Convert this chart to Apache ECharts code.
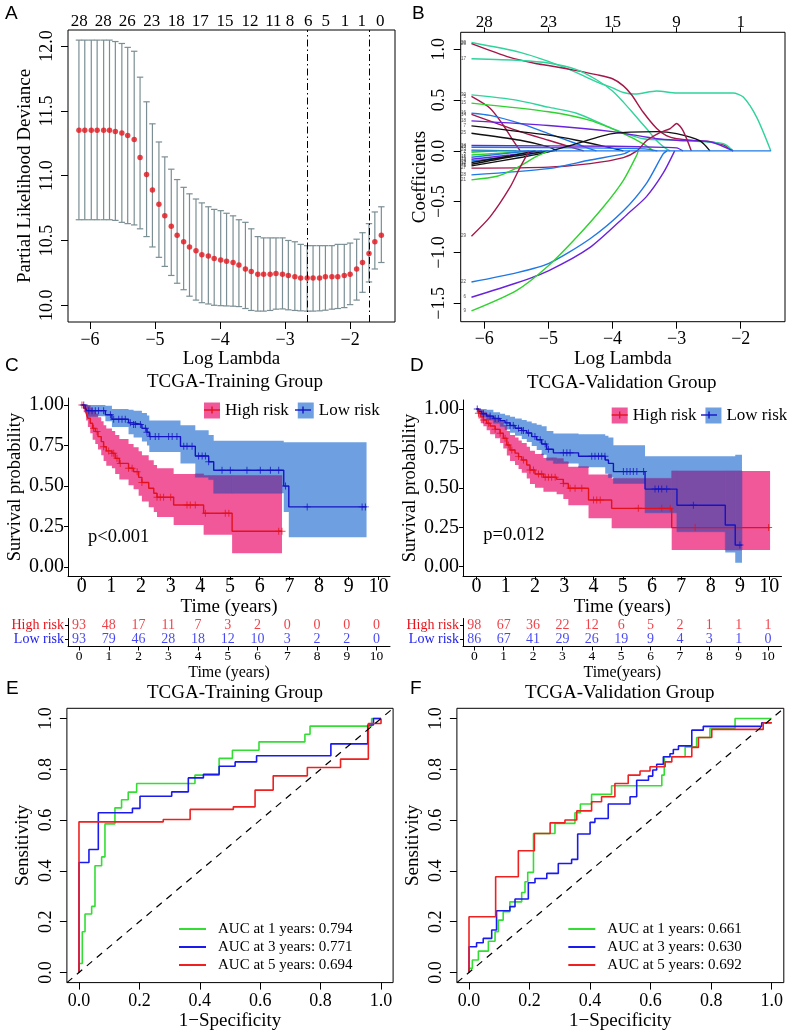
<!DOCTYPE html>
<html><head><meta charset="utf-8">
<script src="https://cdn.jsdelivr.net/npm/echarts@6/dist/echarts.min.js"></script>
<style>html,body{margin:0;padding:0;background:#fff}#c{width:787px;height:1033px}</style>
</head><body><div id="c"></div><script>
// ---------- Panel A: cross-validation ----------
const lamA = [-6.17,-6.08,-5.98,-5.89,-5.79,-5.70,-5.61,-5.51,-5.42,-5.32,-5.23,-5.13,-5.04,-4.94,-4.85,-4.75,-4.66,-4.56,-4.47,-4.37,-4.28,-4.18,-4.09,-3.99,-3.90,-3.80,-3.71,-3.61,-3.52,-3.42,-3.33,-3.23,-3.14,-3.04,-2.95,-2.85,-2.76,-2.66,-2.57,-2.47,-2.38,-2.28,-2.19,-2.09,-2.00,-1.90,-1.81,-1.71,-1.62,-1.52];
const cvmA = [11.35,11.35,11.35,11.35,11.35,11.35,11.34,11.33,11.31,11.28,11.14,11.01,10.89,10.78,10.69,10.61,10.54,10.49,10.45,10.42,10.39,10.38,10.36,10.35,10.34,10.33,10.31,10.28,10.26,10.24,10.24,10.24,10.245,10.24,10.23,10.22,10.21,10.21,10.21,10.21,10.22,10.22,10.22,10.23,10.24,10.28,10.33,10.40,10.49,10.54];
const cvupA = [12.046,12.046,12.046,12.046,12.046,12.046,12.035,12.02,11.99,11.96,11.76,11.57,11.40,11.26,11.145,11.05,10.97,10.91,10.86,10.82,10.79,10.76,10.74,10.73,10.71,10.69,10.66,10.64,10.59,10.53,10.52,10.52,10.52,10.52,10.50,10.49,10.47,10.46,10.46,10.46,10.46,10.46,10.47,10.47,10.48,10.51,10.56,10.63,10.72,10.76];
const cvloA = [10.66,10.66,10.66,10.66,10.66,10.66,10.655,10.64,10.63,10.62,10.59,10.53,10.45,10.37,10.30,10.23,10.17,10.12,10.07,10.04,10.02,10.01,10.00,9.997,9.995,9.993,9.99,9.975,9.96,9.955,9.955,9.96,9.97,9.972,9.965,9.96,9.957,9.955,9.955,9.957,9.962,9.97,9.975,9.982,10.005,10.04,10.10,10.18,10.28,10.33];
const lamMin = -2.66, lam1se = -1.71;
const nzPosA = [-6.165,-5.795,-5.426,-5.051,-4.672,-4.303,-3.923,-3.538,-3.18,-2.923,-2.642,-2.374,-2.077,-1.82,-1.538];
const nzLabA = ['28','28','26','23','18','17','15','12','11','8','6','5','1','1','0'];
const lamTicks = [-6,-5,-4,-3,-2];
// ---------- Panel B: coefficient paths ----------
const nzLabB = ['28','23','15','9','1'];
const PAL = {k:'#111111', m:'#a3174b', g:'#2fd22f', b:'#1e78e6', p:'#6a22dc', t:'#2fd39b'};
const coefPaths = [
 ['20','t',[[-6.2,1.066],[-5.44,0.97],[-5.0,0.88],[-4.56,0.77],[-4.25,0.68],[-4.0,0.62],[-3.83,0.575],[-3.65,0.56],[-3.31,0.59],[-3.0,0.57],[-2.27,0.57],[-2.12,0.57],[-1.96,0.53],[-1.75,0.33],[-1.53,0]]],
 ['26','m',[[-6.2,1.056],[-5.6,0.92],[-5.2,0.86],[-5.0,0.84],[-4.56,0.79],[-4.25,0.75],[-4.0,0.71],[-3.83,0.64],[-3.7,0.55],[-3.52,0.38],[-3.31,0.22],[-3.16,0.15],[-3.0,0.12],[-2.69,0.1],[-2.48,0.09],[-2.27,0.06],[-2.12,0]]],
 ['17','t',[[-6.2,0.906],[-5.44,0.89],[-5.0,0.865],[-4.56,0.8],[-4.25,0.7],[-4.0,0.59],[-3.83,0.48],[-3.65,0.35],[-3.47,0.22],[-3.31,0.1],[-3.16,0.02],[-3.1,0]]],
 ['30','t',[[-6.2,0.551],[-5.5,0.5],[-5.0,0.43],[-4.56,0.37],[-4.0,0.22],[-3.52,0.12],[-3.0,0.105],[-2.27,0.07],[-2.12,0]]],
 ['5','m',[[-6.2,0.536],[-5.91,0.42],[-5.7,0.25],[-5.55,0.1],[-5.44,0]]],
 ['15','g',[[-6.2,0.47],[-5.0,0.385],[-4.35,0.3],[-3.83,0.17],[-3.52,0.07],[-3.36,0]]],
 ['16','b',[[-6.2,0.371],[-5.91,0.35],[-5.44,0.27],[-5.0,0.17],[-4.56,0.07],[-4.35,0.02],[-4.25,0]]],
 ['14','m',[[-6.2,0.36],[-5.44,0.19],[-5.0,0.105],[-4.56,0.02],[-4.45,0]]],
 ['18','p',[[-6.2,0.295],[-5.0,0.25],[-4.0,0.19],[-3.31,0.12],[-3.0,0.105],[-2.48,0.09],[-2.12,0]]],
 ['7','k',[[-6.2,0.246],[-5.0,0.155],[-4.56,0.105],[-4.1,0.04],[-3.83,0]]],
 ['25','k',[[-6.2,0.174],[-5.44,0.105],[-5.0,0.04],[-4.87,0]]],
 ['24','p',[[-6.2,0.053],[-4.0,0.045],[-3.2,0.035],[-3.0,0.03],[-2.9,0]]],
 ['19','b',[[-6.2,0.036],[-4.5,0.03],[-3.5,0.02],[-3.3,0]]],
 ['23','g',[[-6.2,0.01],[-5.5,0]]],
 ['2','g',[[-6.2,-0.013],[-5.8,0]]],
 ['3','g',[[-6.2,-0.04],[-5.2,0]]],
 ['11','b',[[-6.2,-0.062],[-5.3,0]]],
 ['13','p',[[-6.2,-0.082],[-5.6,-0.04],[-5.1,0]]],
 ['4','b',[[-6.2,-0.098],[-5.5,-0.05],[-4.9,0]]],
 ['12','k',[[-6.2,-0.114],[-5.6,-0.05],[-5.2,0]]],
 ['10','k',[[-6.2,-0.131],[-5.6,-0.06],[-5.0,0]]],
 ['1','k',[[-6.2,-0.148],[-5.39,-0.06],[-5.0,-0.01],[-4.56,0.072],[-4.0,0.17],[-3.31,0.19],[-3.0,0.17],[-2.64,0.1],[-2.48,0]]],
 ['27','m',[[-6.2,-0.17],[-5.0,-0.16],[-4.35,-0.125],[-3.83,-0.066],[-3.62,0],[-3.47,0.1],[-3.26,0.18],[-3.1,0.22],[-3.0,0.27],[-2.9,0.2],[-2.77,0]]],
 ['28','b',[[-6.2,-0.236],[-5.0,-0.175],[-4.35,-0.09],[-3.83,-0.03],[-3.73,0]]],
 ['21','g',[[-6.2,-0.285],[-5.8,-0.25],[-5.5,-0.17],[-5.2,-0.06],[-5.0,0]]],
 ['29','m',[[-6.2,-0.84],[-5.91,-0.65],[-5.6,-0.36],[-5.44,-0.16],[-5.3,0]]],
 ['22','b',[[-6.2,-1.29],[-5.5,-1.2],[-5.0,-1.11],[-4.35,-0.865],[-3.83,-0.59],[-3.47,-0.32],[-3.21,-0.03],[-3.15,0]]],
 ['6','p',[[-6.2,-1.44],[-5.5,-1.3],[-5.0,-1.18],[-4.35,-0.95],[-3.78,-0.63],[-3.47,-0.45],[-3.21,-0.22],[-3.03,0]]],
 ['9','g',[[-6.2,-1.575],[-5.5,-1.375],[-5.0,-1.13],[-4.56,-0.85],[-4.14,-0.55],[-3.83,-0.29],[-3.62,-0.04],[-3.6,0]]]
];
const zeroPath = [[-6.2,0],[-1.53,0]];
// ---------- Panel C: KM training ----------
const cHighT = [0,0.07,0.15,0.21,0.29,0.37,0.46,0.55,0.66,0.74,0.83,1.02,1.13,1.27,1.58,1.75,1.92,2.03,2.26,2.43,2.54,3.1,4.11,5.07,6.75];
const cHighS = [1,0.98,0.949,0.918,0.887,0.856,0.836,0.805,0.774,0.743,0.717,0.702,0.671,0.64,0.61,0.589,0.554,0.522,0.487,0.456,0.431,0.384,0.333,0.222,0.222];
const cHighU = [1,1,1,0.995,0.98,0.96,0.945,0.925,0.9,0.875,0.855,0.84,0.815,0.79,0.76,0.74,0.715,0.69,0.66,0.63,0.61,0.575,0.565,0.565,0.565];
const cHighL = [1,0.955,0.905,0.865,0.825,0.785,0.76,0.725,0.69,0.655,0.625,0.61,0.575,0.54,0.505,0.48,0.44,0.405,0.37,0.34,0.31,0.26,0.2,0.086,0.086];
const cHighCens = [0.01,0.4,0.52,0.74,0.91,1.02,1.08,1.19,1.3,1.58,1.7,1.87,2.03,2.54,2.65,2.76,3.0,3.55,3.66,3.83,4.17,4.84,4.96,6.64,6.75];
const cLowT = [0,0.12,0.18,0.8,1.02,1.58,1.75,2.03,2.2,2.28,3.33,3.83,4.28,4.45,6.81,6.98,9.6];
const cLowS = [1,0.98,0.965,0.94,0.912,0.89,0.88,0.856,0.832,0.805,0.745,0.686,0.65,0.598,0.5,0.372,0.372];
const cLowU = [1,1,1,0.995,0.975,0.97,0.965,0.95,0.935,0.905,0.875,0.845,0.815,0.78,0.77,0.77,0.77];
const cLowL = [1,0.955,0.93,0.9,0.865,0.82,0.8,0.775,0.75,0.71,0.64,0.555,0.54,0.456,0.34,0.185,0.185];
const cLowCens = [0.07,0.24,0.35,0.46,0.57,0.74,0.97,1.08,1.25,1.36,1.47,1.64,1.75,1.81,1.98,2.15,2.2,2.31,2.48,2.6,2.93,3.05,3.21,3.44,3.55,3.72,3.94,4.06,4.17,4.28,4.73,5.01,5.57,6.02,6.36,6.64,6.87,7.6,9.45,9.56];
// ---------- Panel D: KM validation ----------
const dHighT = [0,0.07,0.15,0.24,0.35,0.47,0.64,0.81,0.92,1.04,1.15,1.32,1.44,1.55,1.72,1.83,2.0,2.29,2.74,2.97,3.14,3.83,4.62,6.67,10.03];
const dHighS = [1,0.973,0.95,0.93,0.91,0.892,0.871,0.846,0.814,0.772,0.74,0.72,0.698,0.677,0.645,0.613,0.588,0.567,0.554,0.528,0.497,0.423,0.37,0.248,0.248];
const dHighU = [1,1,0.99,0.98,0.965,0.95,0.935,0.915,0.895,0.86,0.835,0.82,0.8,0.785,0.76,0.735,0.715,0.69,0.685,0.665,0.634,0.585,0.56,0.607,0.607];
const dHighL = [1,0.94,0.91,0.89,0.865,0.84,0.815,0.785,0.75,0.705,0.67,0.645,0.62,0.595,0.56,0.525,0.5,0.475,0.46,0.43,0.39,0.307,0.243,0.106,0.106];
const dHighCens = [0.07,0.24,0.41,0.64,0.81,0.98,1.09,1.21,1.44,1.61,1.83,1.95,2.12,2.23,2.35,2.46,2.57,2.69,2.97,3.2,3.37,3.6,4.0,4.11,4.23,5.53,6.33,6.62,7.47,9.98];
const dLowT = [0,0.07,0.18,0.35,0.58,0.81,0.98,1.15,1.32,1.55,1.72,1.89,2.06,2.23,2.4,2.63,3.49,4.4,4.51,4.68,5.76,6.85,8.5,8.84,9.07];
const dLowS = [1,0.985,0.97,0.955,0.94,0.925,0.912,0.895,0.878,0.863,0.848,0.825,0.805,0.778,0.745,0.722,0.7,0.677,0.655,0.603,0.492,0.39,0.264,0.137,0.137];
const dLowU = [1,1,1,0.995,0.98,0.97,0.96,0.95,0.94,0.93,0.92,0.91,0.9,0.89,0.86,0.845,0.84,0.83,0.82,0.77,0.7,0.7,0.7,0.71,0.71];
const dLowL = [1,0.97,0.95,0.93,0.91,0.89,0.87,0.85,0.83,0.81,0.79,0.765,0.74,0.71,0.675,0.655,0.63,0.59,0.565,0.528,0.342,0.222,0.09,0.025,0.025];
const dLowCens = [0.03,0.24,0.47,0.64,0.75,1.04,1.15,1.26,1.44,1.55,1.61,1.78,2.0,2.18,2.35,2.46,2.97,3.09,3.2,3.94,4.05,4.17,4.28,4.39,5.02,5.14,5.25,5.36,5.48,5.71,6.1,6.22,6.33,6.5,7.41,9.0];
// ---------- risk tables ----------
const riskTimes = [0,1,2,3,4,5,6,7,8,9,10];
const riskCHigh = [93,48,17,11,7,3,2,0,0,0,0];
const riskCLow  = [93,79,46,28,18,12,10,3,2,2,0];
const riskDHigh = [98,67,36,22,12,6,5,2,1,1,1];
const riskDLow  = [86,67,41,29,26,19,9,4,3,1,0];
// ---------- Panels E, F: ROC ----------
const rocE1 = [[0,0],[0,0.035],[0.011,0.16],[0.02,0.23],[0.042,0.26],[0.053,0.42],[0.075,0.455],[0.086,0.585],[0.119,0.648],[0.141,0.68],[0.163,0.71],[0.191,0.744],[0.384,0.777],[0.464,0.843],[0.508,0.875],[0.596,0.908],[0.748,0.938],[0.765,0.97],[0.969,1.0],[1,1]];
const rocE3 = [[0,0],[0,0.433],[0.033,0.484],[0.064,0.629],[0.177,0.646],[0.202,0.694],[0.307,0.711],[0.362,0.766],[0.412,0.78],[0.464,0.812],[0.517,0.829],[0.588,0.853],[0.834,0.9],[0.956,0.974],[0.975,1.0],[1,1]];
const rocE5 = [[0,0],[0,0.593],[0.279,0.602],[0.368,0.642],[0.511,0.652],[0.583,0.718],[0.643,0.774],[0.756,0.807],[0.866,0.84],[0.958,0.98],[1,1]];
const rocF1 = [[0,0],[0,0.016],[0.011,0.049],[0.031,0.084],[0.064,0.123],[0.086,0.16],[0.097,0.206],[0.113,0.239],[0.135,0.278],[0.174,0.315],[0.185,0.357],[0.194,0.394],[0.213,0.547],[0.284,0.587],[0.35,0.629],[0.368,0.663],[0.405,0.701],[0.471,0.735],[0.637,0.777],[0.645,0.849],[0.714,0.888],[0.752,0.925],[0.796,0.961],[0.879,1.0],[1,1]];
const rocF3 = [[0,0],[0,0.101],[0.025,0.117],[0.047,0.134],[0.075,0.167],[0.091,0.243],[0.135,0.259],[0.152,0.289],[0.196,0.353],[0.218,0.37],[0.257,0.39],[0.295,0.429],[0.339,0.445],[0.359,0.545],[0.4,0.591],[0.416,0.606],[0.46,0.663],[0.532,0.692],[0.554,0.757],[0.593,0.773],[0.607,0.797],[0.62,0.82],[0.642,0.849],[0.664,0.861],[0.675,0.878],[0.692,0.892],[0.736,0.954],[0.774,0.969],[0.967,0.983],[1,0.983]];
const rocF5 = [[0,0],[0,0.219],[0.088,0.377],[0.163,0.479],[0.216,0.547],[0.268,0.589],[0.317,0.6],[0.356,0.636],[0.405,0.672],[0.438,0.692],[0.482,0.744],[0.526,0.777],[0.565,0.793],[0.598,0.81],[0.648,0.829],[0.67,0.849],[0.736,0.886],[0.758,0.925],[0.802,0.957],[0.972,0.983],[1,0.983]];
const aucE = ['AUC at 1 years: 0.794','AUC at 3 years: 0.771','AUC at 5 years: 0.694'];
const aucF = ['AUC at 1 years: 0.661','AUC at 3 years: 0.630','AUC at 5 years: 0.692'];
const rocTicks = [0,0.2,0.4,0.6,0.8,1.0];

// ---------- styling ----------
const SERIF = '"Liberation Serif","Times New Roman",Times,serif';
const SANS = '"Liberation Sans",Arial,Helvetica,sans-serif';
const BLACK = '#000';
const ERR = '#7a8e94';
const PINK = '#f0589a', LBLUE = '#6ea0e1', PURPLE = '#7b4ca6';
const KRED = '#e3121c', KBLUE = '#1414c4';
const TRED = '#e8121a', TBLUE = '#1a1af0';
const RGREEN = '#33dd33', RBLUE = '#1a1aee', RRED = '#ee2020';
const PLUS = 'path://M4.3,0h1.4v4.3h4.3v1.4h-4.3v4.3h-1.4v-4.3h-4.3v-1.4h4.3z';
const mfmt = (d) => (v) => (v < 0 ? '\u2212' : '') + Math.abs(v).toFixed(d);
const tsty = (size) => ({fontFamily: SERIF, fontSize: size, color: BLACK});

function rX(grid, min, max, ticks, fmt, name, gap, opt) {
  opt = opt || {};
  return {type:'value', gridIndex:grid, min, max, position: opt.position || 'bottom',
    axisLine:{show: !!opt.line, onZero:false, lineStyle:{color:BLACK, width:1}},
    axisTick:{show: opt.tick !== false, length: opt.tickLen || 7, customValues: ticks, lineStyle:{color:BLACK, width:1}},
    axisLabel:Object.assign({customValues: ticks, formatter: fmt, margin: opt.margin != null ? opt.margin : 9}, tsty(opt.fs || 18)),
    splitLine:{show:false}, name: name || '', nameLocation:'middle', nameGap: gap || 0,
    nameTextStyle: tsty(opt.nfs || 19)};
}
function rY(grid, min, max, ticks, fmt, name, gap, opt) {
  opt = opt || {};
  return {type:'value', gridIndex:grid, min, max, position:'left',
    axisLine:{show: !!opt.line, onZero:false, lineStyle:{color:BLACK, width:1}},
    axisTick:{show:true, length: opt.tickLen || 7, customValues: ticks, lineStyle:{color:BLACK, width:1}},
    axisLabel:Object.assign({customValues: ticks, formatter: fmt, margin: opt.margin != null ? opt.margin : 12, rotate: opt.rotate != null ? opt.rotate : 90}, tsty(opt.fs || 18)),
    splitLine:{show:false}, name: name, nameLocation:'middle', nameGap: gap,
    nameTextStyle: tsty(opt.nfs || 19)};
}
function survAt(t, T, S) { let v = S[0]; for (let i = 0; i < T.length; i++) { if (T[i] <= t) v = S[i]; } return v; }
function band(xi, yi, T, U, L, color) {
  return {type:'custom', xAxisIndex:xi, yAxisIndex:yi, silent:true, z:1, data:[[T[0], U[0]]],
    renderItem: function (params, api) {
      const pts = [];
      for (let i = 0; i < T.length; i++) { const t1 = i < T.length - 1 ? T[i+1] : T[i]; pts.push(api.coord([T[i], U[i]]), api.coord([t1, U[i]])); }
      for (let i = T.length - 1; i >= 0; i--) { const t1 = i < T.length - 1 ? T[i+1] : T[i]; pts.push(api.coord([t1, L[i]]), api.coord([T[i], L[i]])); }
      return {type:'polygon', shape:{points: pts}, style:{fill: color}};
    }};
}
// intersection of two step confidence bands (drawn where both bands overlap)
function overlapBand(xi, yi, A, B, color) {
  return {type:'custom', xAxisIndex:xi, yAxisIndex:yi, silent:true, z:2, data:[[A.T[0], A.U[0]]],
    renderItem: function (params, api) {
      const end = Math.min(A.T[A.T.length-1], B.T[B.T.length-1]);
      const ts = Array.from(new Set(A.T.concat(B.T))).filter(t => t <= end).sort((a, b) => a - b);
      if (ts[ts.length-1] < end) ts.push(end);
      const kids = [];
      for (let i = 0; i < ts.length - 1; i++) {
        const t0 = ts[i], t1 = ts[i+1];
        const top = Math.min(survAt(t0, A.T, A.U), survAt(t0, B.T, B.U));
        const bot = Math.max(survAt(t0, A.T, A.L), survAt(t0, B.T, B.L));
        if (top > bot) {
          const p0 = api.coord([t0, top]), p1 = api.coord([t1, bot]);
          kids.push({type:'rect', shape:{x:p0[0], y:p0[1], width:p1[0]-p0[0], height:p1[1]-p0[1]},
            style:{fill:color, stroke:color, lineWidth:0.6}});
        }
      }
      return {type:'group', children:kids};
    }};
}
function kmLine(xi, yi, name, T, S, color) {
  return {type:'line', name, xAxisIndex:xi, yAxisIndex:yi, step:'end', showSymbol:false, z:3,
    data: T.map((t, i) => [t, S[i]]), lineStyle:{color, width:1.4}, itemStyle:{color}, silent:true};
}
function kmCens(xi, yi, C, T, S, color) {
  return {type:'scatter', xAxisIndex:xi, yAxisIndex:yi, symbol:PLUS, symbolSize:7, z:4, silent:true,
    data: C.map(t => [t, survAt(t, T, S)]), itemStyle:{color}};
}
function riskRow(xi, yi, row, vals, color) {
  return {type:'scatter', xAxisIndex:xi, yAxisIndex:yi, symbolSize:1, silent:true,
    itemStyle:{color:'rgba(0,0,0,0)'},
    data: riskTimes.map((t, i) => [t, row, vals[i]]),
    label:{show:true, position:'inside', formatter: p => String(p.value[2]), color, fontFamily:SERIF, fontSize:14}};
}
function rocLine(xi, yi, name, pts, color) {
  return {type:'line', name, xAxisIndex:xi, yAxisIndex:yi, step:'end', showSymbol:false, data: pts,
    lineStyle:{color, width:1.6}, itemStyle:{color}, silent:true, z:3};
}
function diag(xi, yi) {
  return {type:'line', xAxisIndex:xi, yAxisIndex:yi, showSymbol:false, silent:true, z:4,
    data:[[-0.04,-0.04],[1.04,1.04]], lineStyle:{color:BLACK, width:1.2, type:[7,6]}};
}
const nearestLab = (pos, lab) => (v) => { let b = 0; for (let i = 0; i < pos.length; i++) if (Math.abs(pos[i]-v) < Math.abs(pos[b]-v)) b = i; return lab[b]; };

const grids = [
  {left:68, top:30, width:327, height:292, show:true, borderColor:BLACK, borderWidth:1},        // A
  {left:460.7, top:32.3, width:324.3, height:289.4, show:true, borderColor:BLACK, borderWidth:1}, // B
  {left:68, top:398, width:322, height:178},   // C
  {left:463, top:400, width:318.5, height:176},// D
  {left:68, top:618.5, width:322, height:28},  // C table
  {left:463, top:618.5, width:318.5, height:28}, // D table
  {left:66.9, top:708.3, width:326.2, height:274.3, show:true, borderColor:BLACK, borderWidth:1}, // E
  {left:456.9, top:708.3, width:326.9, height:274.3, show:true, borderColor:BLACK, borderWidth:1}  // F
];
const kmTicks = [0,1,2,3,4,5,6,7,8,9,10];
const kmYTicks = [0,0.25,0.5,0.75,1];
const xAxes = [
  rX(0, -6.338, -1.31, lamTicks, mfmt(0), 'Log Lambda', 24.5),
  rX(0, -6.338, -1.31, nzPosA, nearestLab(nzPosA, nzLabA), '', 0, {position:'top', tick:false, margin:0, fs:17}),
  rX(1, -6.368, -1.309, lamTicks, mfmt(0), 'Log Lambda', 24.5),
  rX(1, -6.368, -1.309, lamTicks, nearestLab(lamTicks, nzLabB), '', 0, {position:'top', margin:1, fs:17, tickLen:5}),
  rX(2, -0.46, 10.39, kmTicks, v => String(v), 'Time (years)', 19.5, {line:true, tickLen:4, margin:1, fs:20, nfs:19}),
  rX(3, -0.457, 10.42, kmTicks, v => String(v), 'Time (years)', 19.5, {line:true, tickLen:4, margin:1, fs:20, nfs:19}),
  rX(4, -0.37, 10.45, kmTicks, v => String(v), 'Time (years)', 15.5, {line:true, tickLen:4, margin:3, fs:13.5, nfs:16}),
  rX(5, -0.384, 10.456, kmTicks, v => String(v), 'Time(years)', 15.5, {line:true, tickLen:4, margin:3, fs:13.5, nfs:16}),
  rX(6, -0.04, 1.04, rocTicks, mfmt(1), '1\u2212Specificity', 28, {margin:10}),
  rX(7, -0.04, 1.04, rocTicks, mfmt(1), '1\u2212Specificity', 28, {margin:10})
];
const tableY = (grid) => ({type:'category', gridIndex:grid, position:'left', data:['Low risk','High risk'],
  axisLine:{show:true, onZero:false, lineStyle:{color:BLACK, width:1}},
  axisTick:{show:true, alignWithLabel:true, interval:0, length:3, lineStyle:{color:BLACK}},
  axisLabel:{margin:4, interval:0, formatter: v => '{' + (v === 'High risk' ? 'h' : 'l') + '|' + v + '}',
    rich:{h:{color:TRED, fontFamily:SERIF, fontSize:14}, l:{color:TBLUE, fontFamily:SERIF, fontSize:14}}},
  splitLine:{show:false}});
const yAxes = [
  rY(0, 9.871, 12.124, [10,10.5,11,11.5,12], mfmt(1), 'Partial Likelihood Deviance', 33.5),
  rY(1, -1.681, 1.167, [-1.5,-1,-0.5,0,0.5,1], mfmt(1), 'Coefficients', 26),
  rY(2, -0.054, 1.043, kmYTicks, v => v.toFixed(2), 'Survival probability', 42, {line:true, tickLen:4, margin:4, rotate:0, fs:20, nfs:18.5}),
  rY(3, -0.059, 1.057, kmYTicks, v => v.toFixed(2), 'Survival probability', 42, {line:true, tickLen:4, margin:4, rotate:0, fs:20, nfs:18.5}),
  tableY(4), tableY(5),
  rY(6, -0.04, 1.04, rocTicks, mfmt(1), 'Sensitivity', 34, {margin:11.5}),
  rY(7, -0.04, 1.04, rocTicks, mfmt(1), 'Sensitivity', 34, {margin:11.5})
];

const series = [];
// A
series.push({type:'custom', xAxisIndex:0, yAxisIndex:0, silent:true, z:2,
  data: lamA.map((x, i) => [x, cvloA[i], cvupA[i]]), encode:{x:0, y:[1,2]},
  renderItem: function (params, api) {
    const x = api.value(0), lo = api.coord([x, api.value(1)]), hi = api.coord([x, api.value(2)]), hw = 3.2;
    const st = {stroke: ERR, lineWidth: 1.2};
    return {type:'group', children:[
      {type:'line', shape:{x1:lo[0], y1:lo[1], x2:hi[0], y2:hi[1]}, style:st},
      {type:'line', shape:{x1:hi[0]-hw, y1:hi[1], x2:hi[0]+hw, y2:hi[1]}, style:st},
      {type:'line', shape:{x1:lo[0]-hw, y1:lo[1], x2:lo[0]+hw, y2:lo[1]}, style:st}]};
  }});
series.push({type:'scatter', xAxisIndex:0, yAxisIndex:0, silent:true, z:3, symbolSize:5.5,
  data: lamA.map((x, i) => [x, cvmA[i]]), itemStyle:{color:'#e3141b'},
  markLine:{symbol:['none','none'], silent:true, animation:false, label:{show:false},
    lineStyle:{color:BLACK, width:1, type:[7,3,1.5,3]}, data:[{xAxis:lamMin},{xAxis:lam1se}]}});
// B
coefPaths.forEach(p => series.push({type:'line', xAxisIndex:2, yAxisIndex:1, data:p[2], showSymbol:false,
  smooth:0.25, silent:true, lineStyle:{color:PAL[p[1]], width:1.4}}));
series.push({type:'line', xAxisIndex:2, yAxisIndex:1, data:zeroPath, showSymbol:false, silent:true, lineStyle:{color:PAL.b, width:1.4}});
series.push({type:'scatter', xAxisIndex:2, yAxisIndex:1, symbolSize:1, silent:true, itemStyle:{color:'rgba(0,0,0,0)'},
  data: coefPaths.map(p => [p[2][0][0], p[2][0][1], p[0]]),
  label:{show:true, position:'left', distance:5, formatter: q => q.value[2], fontSize:4.5, color:'#222', fontFamily:SANS}});
// C
series.push(band(4, 2, cHighT, cHighU, cHighL, PINK));
series.push(band(4, 2, cLowT, cLowU, cLowL, LBLUE));
series.push(overlapBand(4, 2, {T:cHighT, U:cHighU, L:cHighL}, {T:cLowT, U:cLowU, L:cLowL}, PURPLE));
series.push(kmLine(4, 2, 'High risk', cHighT, cHighS, KRED));
series.push(kmLine(4, 2, 'Low risk', cLowT, cLowS, KBLUE));
series.push(kmCens(4, 2, cHighCens, cHighT, cHighS, KRED));
series.push(kmCens(4, 2, cLowCens, cLowT, cLowS, KBLUE));
// D
series.push(band(5, 3, dHighT, dHighU, dHighL, PINK));
series.push(band(5, 3, dLowT, dLowU, dLowL, LBLUE));
series.push(overlapBand(5, 3, {T:dHighT, U:dHighU, L:dHighL}, {T:dLowT, U:dLowU, L:dLowL}, PURPLE));
series.push(kmLine(5, 3, 'High risk', dHighT, dHighS, KRED));
series.push(kmLine(5, 3, 'Low risk', dLowT, dLowS, KBLUE));
series.push(kmCens(5, 3, dHighCens, dHighT, dHighS, KRED));
series.push(kmCens(5, 3, dLowCens, dLowT, dLowS, KBLUE));
// tables
series.push(riskRow(6, 4, 'High risk', riskCHigh, TRED));
series.push(riskRow(6, 4, 'Low risk', riskCLow, TBLUE));
series.push(riskRow(7, 5, 'High risk', riskDHigh, TRED));
series.push(riskRow(7, 5, 'Low risk', riskDLow, TBLUE));
// E, F
series.push(rocLine(8, 6, aucE[0], rocE1, RGREEN));
series.push(rocLine(8, 6, aucE[1], rocE3, RBLUE));
series.push(rocLine(8, 6, aucE[2], rocE5, RRED));
series.push(diag(8, 6));
series.push(rocLine(9, 7, aucF[0], rocF1, RGREEN));
series.push(rocLine(9, 7, aucF[1], rocF3, RBLUE));
series.push(rocLine(9, 7, aucF[2], rocF5, RRED));
series.push(diag(9, 7));

const kmLegend = (left, top) => ({left, top, width:260, padding:0, orient:'horizontal', itemWidth:16, itemHeight:16, itemGap:9, selectedMode:false,
  textStyle:{fontFamily:SERIF, fontSize:17, color:BLACK},
  data:[{name:'High risk', icon:'rect', itemStyle:{color:PINK}}, {name:'Low risk', icon:'rect', itemStyle:{color:LBLUE}}]});
const rocLegend = (left, names) => ({left, top:921.5, padding:0, orient:'vertical', itemWidth:27, itemHeight:2, itemGap:3, selectedMode:false,
  textStyle:{fontFamily:SERIF, fontSize:15, color:BLACK, lineHeight:15, padding:[0,0,0,7]},
  data: names.map(n => ({name:n, icon:'rect'}))});

function txt(x, y, text, size, family, align) {
  return {type:'text', x, y, silent:true, style:{text, fontSize:size, fontFamily:family, fill:BLACK, align: align || 'left', verticalAlign:'middle'}};
}
function seg(x1, y1, x2, y2, color) {
  return {type:'line', silent:true, z:100, shape:{x1, y1, x2, y2}, style:{stroke:color, lineWidth:1.4}};
}
const graphics = [
  txt(5, 14, 'A', 19, SANS), txt(412, 14, 'B', 19, SANS), txt(5, 366, 'C', 19, SANS),
  txt(410, 366, 'D', 19, SANS), txt(6, 689, 'E', 19, SANS), txt(410, 689, 'F', 19, SANS),
  txt(235, 381.7, 'TCGA-Training Group', 19, SERIF, 'center'),
  txt(621.7, 383, 'TCGA-Validation Group', 19, SERIF, 'center'),
  txt(235, 693.3, 'TCGA-Training Group', 19, SERIF, 'center'),
  txt(619.7, 693.3, 'TCGA-Validation Group', 19, SERIF, 'center'),
  txt(88, 536.7, 'p<0.001', 18.5, SERIF), txt(483.3, 535, 'p=0.012', 18.5, SERIF),
  seg(204, 410, 220, 410, KRED), seg(212, 406.5, 212, 413.5, KRED),
  seg(295, 410, 311, 410, KBLUE), seg(303, 406.5, 303, 413.5, KBLUE),
  seg(611.7, 415, 627.7, 415, KRED), seg(619.7, 411.5, 619.7, 418.5, KRED),
  seg(701, 415, 717, 415, KBLUE), seg(709, 411.5, 709, 418.5, KBLUE)
];

const chart = echarts.init(document.getElementById('c'), null, {renderer:'canvas'});
chart.setOption({
  animation:false, backgroundColor:'#fff',
  grid: grids, xAxis: xAxes, yAxis: yAxes, series: series,
  legend:[kmLegend(204, 402), kmLegend(611.7, 407), rocLegend(179, aucE), rocLegend(568.3, aucF)],
  graphic: graphics
});
</script></body></html>
